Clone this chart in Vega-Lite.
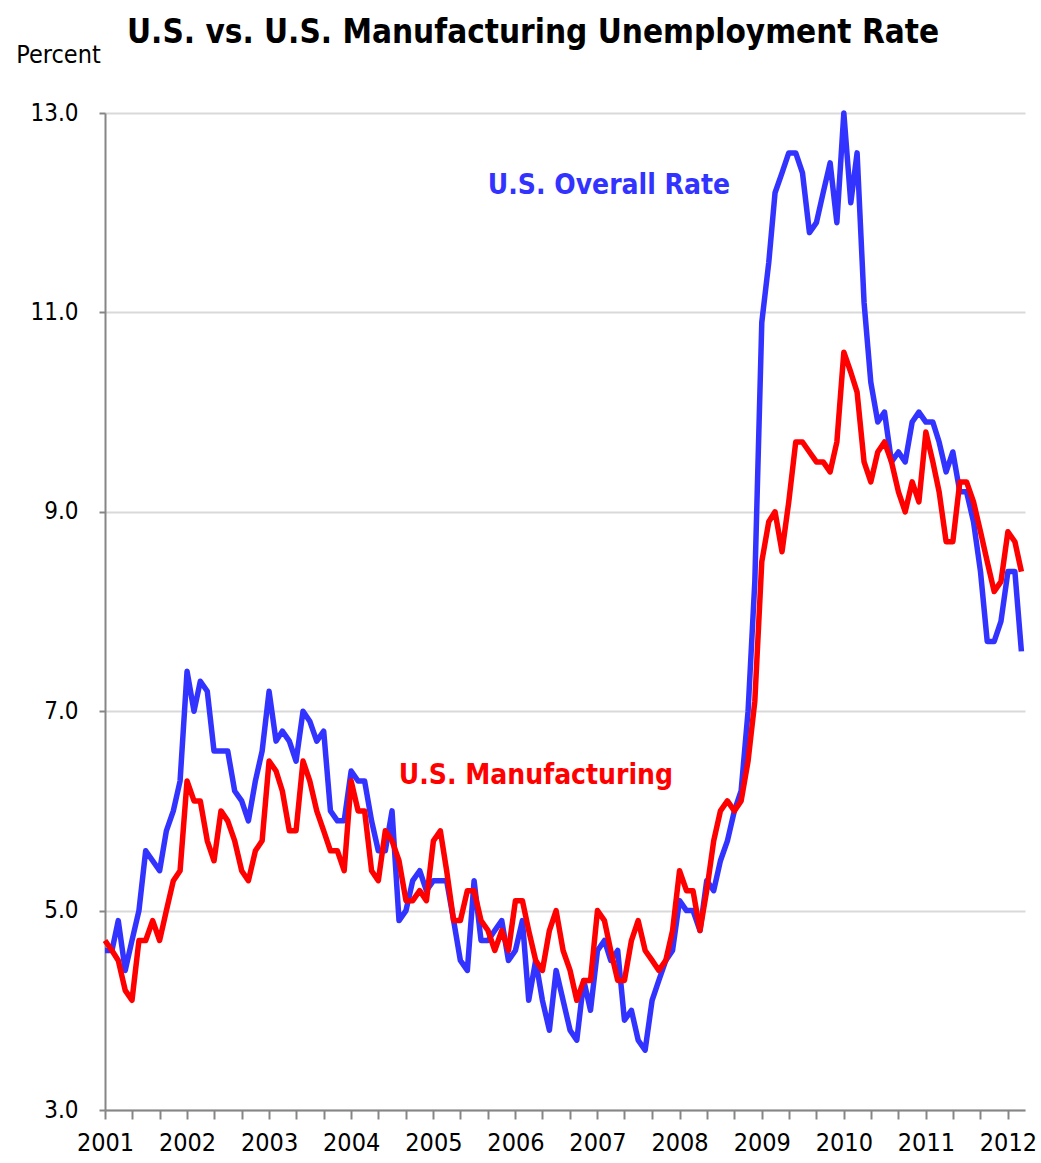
{
  "$schema": "https://vega.github.io/schema/vega-lite/v6.json",
  "width": 920,
  "height": 997,
  "autosize": "none",
  "padding": {"left": 105, "top": 113, "right": 16, "bottom": 53},
  "background": "white",
  "config": {"view": {"stroke": null}, "font": "DejaVu Sans Condensed, Liberation Sans, sans-serif"},
  "title": {
    "text": "U.S. vs. U.S. Manufacturing Unemployment Rate",
    "font": "DejaVu Sans Condensed, Liberation Sans, sans-serif",
    "fontSize": 33,
    "fontWeight": "bold",
    "color": "black",
    "anchor": "start",
    "frame": "group",
    "dx": 22,
    "offset": -8
  },
  "datasets": {
    "rates": [
      {"date": "2001-01-01", "overall": 4.6, "manufacturing": 4.7},
      {"date": "2001-02-01", "overall": 4.6, "manufacturing": 4.6},
      {"date": "2001-03-01", "overall": 4.9, "manufacturing": 4.5},
      {"date": "2001-04-01", "overall": 4.4, "manufacturing": 4.2},
      {"date": "2001-05-01", "overall": 4.7, "manufacturing": 4.1},
      {"date": "2001-06-01", "overall": 5.0, "manufacturing": 4.7},
      {"date": "2001-07-01", "overall": 5.6, "manufacturing": 4.7},
      {"date": "2001-08-01", "overall": 5.5, "manufacturing": 4.9},
      {"date": "2001-09-01", "overall": 5.4, "manufacturing": 4.7},
      {"date": "2001-10-01", "overall": 5.8, "manufacturing": 5.0},
      {"date": "2001-11-01", "overall": 6.0, "manufacturing": 5.3},
      {"date": "2001-12-01", "overall": 6.3, "manufacturing": 5.4},
      {"date": "2002-01-01", "overall": 7.4, "manufacturing": 6.3},
      {"date": "2002-02-01", "overall": 7.0, "manufacturing": 6.1},
      {"date": "2002-03-01", "overall": 7.3, "manufacturing": 6.1},
      {"date": "2002-04-01", "overall": 7.2, "manufacturing": 5.7},
      {"date": "2002-05-01", "overall": 6.6, "manufacturing": 5.5},
      {"date": "2002-06-01", "overall": 6.6, "manufacturing": 6.0},
      {"date": "2002-07-01", "overall": 6.6, "manufacturing": 5.9},
      {"date": "2002-08-01", "overall": 6.2, "manufacturing": 5.7},
      {"date": "2002-09-01", "overall": 6.1, "manufacturing": 5.4},
      {"date": "2002-10-01", "overall": 5.9, "manufacturing": 5.3},
      {"date": "2002-11-01", "overall": 6.3, "manufacturing": 5.6},
      {"date": "2002-12-01", "overall": 6.6, "manufacturing": 5.7},
      {"date": "2003-01-01", "overall": 7.2, "manufacturing": 6.5},
      {"date": "2003-02-01", "overall": 6.7, "manufacturing": 6.4},
      {"date": "2003-03-01", "overall": 6.8, "manufacturing": 6.2},
      {"date": "2003-04-01", "overall": 6.7, "manufacturing": 5.8},
      {"date": "2003-05-01", "overall": 6.5, "manufacturing": 5.8},
      {"date": "2003-06-01", "overall": 7.0, "manufacturing": 6.5},
      {"date": "2003-07-01", "overall": 6.9, "manufacturing": 6.3},
      {"date": "2003-08-01", "overall": 6.7, "manufacturing": 6.0},
      {"date": "2003-09-01", "overall": 6.8, "manufacturing": 5.8},
      {"date": "2003-10-01", "overall": 6.0, "manufacturing": 5.6},
      {"date": "2003-11-01", "overall": 5.9, "manufacturing": 5.6},
      {"date": "2003-12-01", "overall": 5.9, "manufacturing": 5.4},
      {"date": "2004-01-01", "overall": 6.4, "manufacturing": 6.3},
      {"date": "2004-02-01", "overall": 6.3, "manufacturing": 6.0},
      {"date": "2004-03-01", "overall": 6.3, "manufacturing": 6.0},
      {"date": "2004-04-01", "overall": 5.9, "manufacturing": 5.4},
      {"date": "2004-05-01", "overall": 5.6, "manufacturing": 5.3},
      {"date": "2004-06-01", "overall": 5.6, "manufacturing": 5.8},
      {"date": "2004-07-01", "overall": 6.0, "manufacturing": 5.7},
      {"date": "2004-08-01", "overall": 4.9, "manufacturing": 5.5},
      {"date": "2004-09-01", "overall": 5.0, "manufacturing": 5.1},
      {"date": "2004-10-01", "overall": 5.3, "manufacturing": 5.1},
      {"date": "2004-11-01", "overall": 5.4, "manufacturing": 5.2},
      {"date": "2004-12-01", "overall": 5.2, "manufacturing": 5.1},
      {"date": "2005-01-01", "overall": 5.3, "manufacturing": 5.7},
      {"date": "2005-02-01", "overall": 5.3, "manufacturing": 5.8},
      {"date": "2005-03-01", "overall": 5.3, "manufacturing": 5.4},
      {"date": "2005-04-01", "overall": 4.9, "manufacturing": 4.9},
      {"date": "2005-05-01", "overall": 4.5, "manufacturing": 4.9},
      {"date": "2005-06-01", "overall": 4.4, "manufacturing": 5.2},
      {"date": "2005-07-01", "overall": 5.3, "manufacturing": 5.2},
      {"date": "2005-08-01", "overall": 4.7, "manufacturing": 4.9},
      {"date": "2005-09-01", "overall": 4.7, "manufacturing": 4.8},
      {"date": "2005-10-01", "overall": 4.8, "manufacturing": 4.6},
      {"date": "2005-11-01", "overall": 4.9, "manufacturing": 4.8},
      {"date": "2005-12-01", "overall": 4.5, "manufacturing": 4.6},
      {"date": "2006-01-01", "overall": 4.6, "manufacturing": 5.1},
      {"date": "2006-02-01", "overall": 4.9, "manufacturing": 5.1},
      {"date": "2006-03-01", "overall": 4.1, "manufacturing": 4.8},
      {"date": "2006-04-01", "overall": 4.5, "manufacturing": 4.5},
      {"date": "2006-05-01", "overall": 4.1, "manufacturing": 4.4},
      {"date": "2006-06-01", "overall": 3.8, "manufacturing": 4.8},
      {"date": "2006-07-01", "overall": 4.4, "manufacturing": 5.0},
      {"date": "2006-08-01", "overall": 4.1, "manufacturing": 4.6},
      {"date": "2006-09-01", "overall": 3.8, "manufacturing": 4.4},
      {"date": "2006-10-01", "overall": 3.7, "manufacturing": 4.1},
      {"date": "2006-11-01", "overall": 4.3, "manufacturing": 4.3},
      {"date": "2006-12-01", "overall": 4.0, "manufacturing": 4.3},
      {"date": "2007-01-01", "overall": 4.6, "manufacturing": 5.0},
      {"date": "2007-02-01", "overall": 4.7, "manufacturing": 4.9},
      {"date": "2007-03-01", "overall": 4.5, "manufacturing": 4.6},
      {"date": "2007-04-01", "overall": 4.6, "manufacturing": 4.3},
      {"date": "2007-05-01", "overall": 3.9, "manufacturing": 4.3},
      {"date": "2007-06-01", "overall": 4.0, "manufacturing": 4.7},
      {"date": "2007-07-01", "overall": 3.7, "manufacturing": 4.9},
      {"date": "2007-08-01", "overall": 3.6, "manufacturing": 4.6},
      {"date": "2007-09-01", "overall": 4.1, "manufacturing": 4.5},
      {"date": "2007-10-01", "overall": 4.3, "manufacturing": 4.4},
      {"date": "2007-11-01", "overall": 4.5, "manufacturing": 4.5},
      {"date": "2007-12-01", "overall": 4.6, "manufacturing": 4.8},
      {"date": "2008-01-01", "overall": 5.1, "manufacturing": 5.4},
      {"date": "2008-02-01", "overall": 5.0, "manufacturing": 5.2},
      {"date": "2008-03-01", "overall": 5.0, "manufacturing": 5.2},
      {"date": "2008-04-01", "overall": 4.8, "manufacturing": 4.8},
      {"date": "2008-05-01", "overall": 5.3, "manufacturing": 5.2},
      {"date": "2008-06-01", "overall": 5.2, "manufacturing": 5.7},
      {"date": "2008-07-01", "overall": 5.5, "manufacturing": 6.0},
      {"date": "2008-08-01", "overall": 5.7, "manufacturing": 6.1},
      {"date": "2008-09-01", "overall": 6.0, "manufacturing": 6.0},
      {"date": "2008-10-01", "overall": 6.2, "manufacturing": 6.1},
      {"date": "2008-11-01", "overall": 7.0, "manufacturing": 6.5},
      {"date": "2008-12-01", "overall": 8.3, "manufacturing": 7.1},
      {"date": "2009-01-01", "overall": 10.9, "manufacturing": 8.5},
      {"date": "2009-02-01", "overall": 11.5, "manufacturing": 8.9},
      {"date": "2009-03-01", "overall": 12.2, "manufacturing": 9.0},
      {"date": "2009-04-01", "overall": 12.4, "manufacturing": 8.6},
      {"date": "2009-05-01", "overall": 12.6, "manufacturing": 9.1},
      {"date": "2009-06-01", "overall": 12.6, "manufacturing": 9.7},
      {"date": "2009-07-01", "overall": 12.4, "manufacturing": 9.7},
      {"date": "2009-08-01", "overall": 11.8, "manufacturing": 9.6},
      {"date": "2009-09-01", "overall": 11.9, "manufacturing": 9.5},
      {"date": "2009-10-01", "overall": 12.2, "manufacturing": 9.5},
      {"date": "2009-11-01", "overall": 12.5, "manufacturing": 9.4},
      {"date": "2009-12-01", "overall": 11.9, "manufacturing": 9.7},
      {"date": "2010-01-01", "overall": 13.0, "manufacturing": 10.6},
      {"date": "2010-02-01", "overall": 12.1, "manufacturing": 10.4},
      {"date": "2010-03-01", "overall": 12.6, "manufacturing": 10.2},
      {"date": "2010-04-01", "overall": 11.1, "manufacturing": 9.5},
      {"date": "2010-05-01", "overall": 10.3, "manufacturing": 9.3},
      {"date": "2010-06-01", "overall": 9.9, "manufacturing": 9.6},
      {"date": "2010-07-01", "overall": 10.0, "manufacturing": 9.7},
      {"date": "2010-08-01", "overall": 9.5, "manufacturing": 9.5},
      {"date": "2010-09-01", "overall": 9.6, "manufacturing": 9.2},
      {"date": "2010-10-01", "overall": 9.5, "manufacturing": 9.0},
      {"date": "2010-11-01", "overall": 9.9, "manufacturing": 9.3},
      {"date": "2010-12-01", "overall": 10.0, "manufacturing": 9.1},
      {"date": "2011-01-01", "overall": 9.9, "manufacturing": 9.8},
      {"date": "2011-02-01", "overall": 9.9, "manufacturing": 9.5},
      {"date": "2011-03-01", "overall": 9.7, "manufacturing": 9.2},
      {"date": "2011-04-01", "overall": 9.4, "manufacturing": 8.7},
      {"date": "2011-05-01", "overall": 9.6, "manufacturing": 8.7},
      {"date": "2011-06-01", "overall": 9.2, "manufacturing": 9.3},
      {"date": "2011-07-01", "overall": 9.2, "manufacturing": 9.3},
      {"date": "2011-08-01", "overall": 8.9, "manufacturing": 9.1},
      {"date": "2011-09-01", "overall": 8.4, "manufacturing": 8.8},
      {"date": "2011-10-01", "overall": 7.7, "manufacturing": 8.5},
      {"date": "2011-11-01", "overall": 7.7, "manufacturing": 8.2},
      {"date": "2011-12-01", "overall": 7.9, "manufacturing": 8.3},
      {"date": "2012-01-01", "overall": 8.4, "manufacturing": 8.8},
      {"date": "2012-02-01", "overall": 8.4, "manufacturing": 8.7},
      {"date": "2012-03-01", "overall": 7.6, "manufacturing": 8.4}
    ],
    "labels": [
      {"date": "2007-02-21", "value": 12.27, "label": "U.S. Overall Rate", "series": "overall"},
      {"date": "2006-04-02", "value": 6.35, "label": "U.S. Manufacturing", "series": "manufacturing"}
    ]
  },
  "layer": [
    {
      "data": {"name": "rates"},
      "mark": {"type": "line", "color": "#3333FF", "strokeWidth": 5.5, "strokeJoin": "round"},
      "encoding": {
        "x": {
          "field": "date",
          "type": "temporal",
          "scale": {
            "type": "utc",
            "domain": [{"year": 2001, "month": 1, "date": 1, "utc": true}, {"year": 2012, "month": 3, "date": 17, "utc": true}]
          },
          "axis": {
            "title": null,
            "grid": false,
            "tickCount": {"interval": "month", "step": 4},
            "labelExpr": "utcFormat(datum.value, '%m') == '01' ? utcFormat(datum.value, '%Y') : ''",
            "labelOverlap": false,
            "labelFlush": false,
            "labelFont": "DejaVu Sans Condensed, Liberation Sans, sans-serif",
            "labelFontSize": 25,
            "labelColor": "black",
            "labelPadding": 11,
            "tickSize": 9,
            "tickWidth": 2,
            "tickColor": "#868686",
            "domainColor": "#868686",
            "domainWidth": 2
          }
        },
        "y": {
          "field": "overall",
          "type": "quantitative",
          "scale": {"domain": [3, 13], "nice": false, "zero": false},
          "axis": {
            "title": "Percent",
            "titleAngle": 0,
            "titleFont": "DejaVu Sans Condensed, Liberation Sans, sans-serif",
            "titleFontSize": 25,
            "titleFontWeight": "normal",
            "titleColor": "black",
            "titleAlign": "center",
            "titleBaseline": "alphabetic",
            "titleX": -47,
            "titleY": -51,
            "values": [3, 5, 7, 9, 11, 13],
            "format": ".1f",
            "grid": true,
            "gridColor": "#d9d9d9",
            "gridWidth": 2,
            "labelFont": "DejaVu Sans Condensed, Liberation Sans, sans-serif",
            "labelFontSize": 24,
            "labelColor": "black",
            "labelPadding": 21,
            "tickSize": 6,
            "tickWidth": 2,
            "tickColor": "#868686",
            "domainColor": "#868686",
            "domainWidth": 2
          }
        }
      }
    },
    {
      "data": {"name": "rates"},
      "mark": {"type": "line", "color": "#FF0000", "strokeWidth": 5.5, "strokeJoin": "round"},
      "encoding": {
        "x": {"field": "date", "type": "temporal"},
        "y": {"field": "manufacturing", "type": "quantitative"}
      }
    },
    {
      "data": {"name": "labels"},
      "mark": {"type": "text", "font": "DejaVu Sans Condensed, Liberation Sans, sans-serif", "fontSize": 28, "fontWeight": "bold", "align": "center", "baseline": "middle"},
      "encoding": {
        "x": {"field": "date", "type": "temporal"},
        "y": {"field": "value", "type": "quantitative"},
        "text": {"field": "label"},
        "color": {"field": "series", "type": "nominal", "scale": {"domain": ["overall", "manufacturing"], "range": ["#3333FF", "#FF0000"]}, "legend": null}
      }
    }
  ]
}
